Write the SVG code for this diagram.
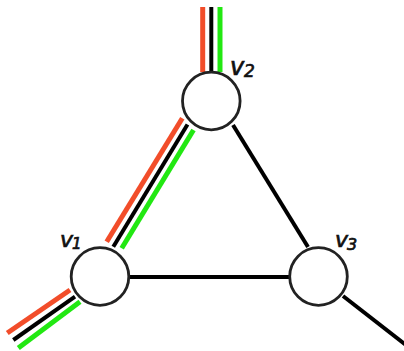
<svg xmlns="http://www.w3.org/2000/svg" width="404" height="351" viewBox="0 0 404 351">
<style>
.r{stroke:#f24d2a;stroke-width:5;fill:none}
.k{stroke:#000;stroke-width:4;fill:none}
.g{stroke:#22e812;stroke-width:5;fill:none}
.node{fill:#fff;stroke:#222;stroke-width:2.8}
.lab{font-family:"DejaVu Sans",sans-serif;font-style:italic;fill:#111;stroke:#111;stroke-width:0.7}
</style>
<rect width="404" height="351" fill="#fff"/>
<g id="connectors">
<line class="r" x1="202.7" y1="7" x2="202.7" y2="72"/>
<line class="k" x1="211.3" y1="7" x2="211.3" y2="72"/>
<line class="g" x1="220" y1="7" x2="220" y2="72"/>
<line class="r" x1="182.3" y1="118.3" x2="106.7" y2="241.7"/>
<line class="k" x1="187.5" y1="124.5" x2="113.3" y2="246.7"/>
<line class="g" x1="193.5" y1="130" x2="121.7" y2="248.3"/>
<line class="r" x1="7.3" y1="333" x2="70" y2="290"/>
<line class="k" x1="13.3" y1="340" x2="75" y2="296.7"/>
<line class="g" x1="18.3" y1="348" x2="80" y2="301.7"/>
<line class="k" x1="233" y1="125" x2="308" y2="247"/>
<line class="k" x1="130" y1="277" x2="289" y2="277"/>
<line class="k" x1="343" y1="296" x2="406" y2="345"/>
</g>
<g id="v2">
<circle class="node" cx="211.3" cy="101" r="28.8"/>
<text class="lab" x="230" y="75" font-size="24">v</text>
<text class="lab" x="244" y="77" font-size="17">2</text>
</g>
<g id="v1">
<circle class="node" cx="100" cy="276.5" r="28.8"/>
<text class="lab" x="60" y="247" font-size="22">v</text>
<text class="lab" x="72" y="249" font-size="15">1</text>
</g>
<g id="v3">
<circle class="node" cx="318.5" cy="276.5" r="28.8"/>
<text class="lab" x="335" y="247" font-size="22">v</text>
<text class="lab" x="347" y="250" font-size="16">3</text>
</g>
</svg>
